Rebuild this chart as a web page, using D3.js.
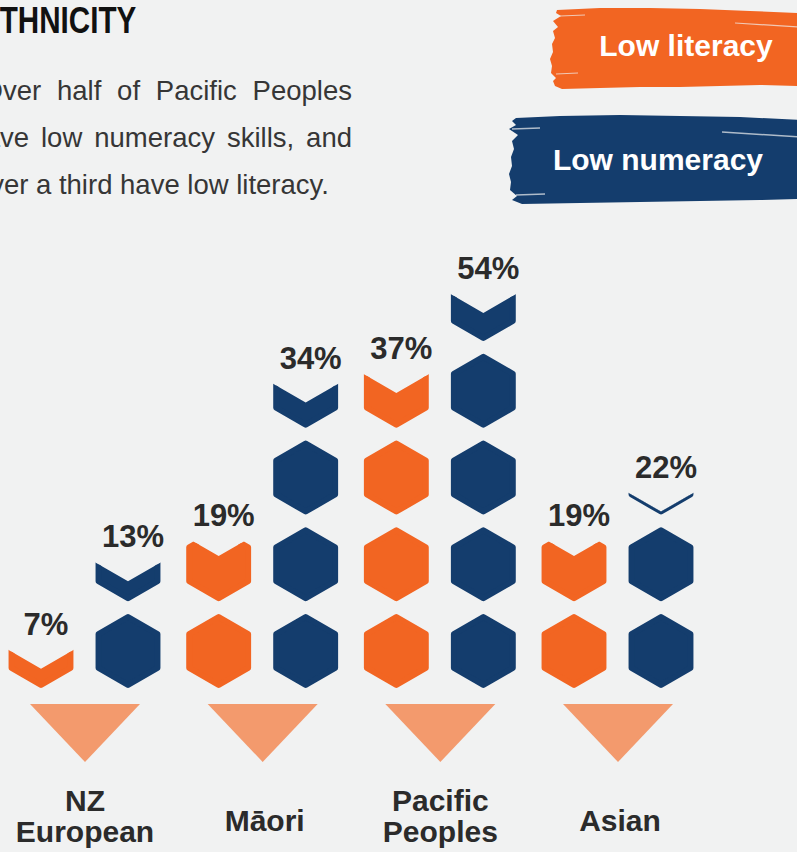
<!DOCTYPE html>
<html>
<head>
<meta charset="utf-8">
<script src="https://cdn.jsdelivr.net/npm/d3@7"></script>
<style>
body { margin: 0; background: #f1f2f2; }
svg { display: block; font-family: "Liberation Sans", Arial, sans-serif; }
</style>
</head>
<body>
<svg id="chart" width="797" height="852"></svg>
<script>
var categories = ["NZ European", "Māori", "Pacific Peoples", "Asian"];
var labelLines = [["NZ", "European"], ["Māori"], ["Pacific", "Peoples"], ["Asian"]];
var seriesNames = ["Low literacy", "Low numeracy"];
var literacy = [7, 19, 37, 19];
var numeracy = [13, 34, 54, 22];
// hexagon icons as drawn in the graphic (whole icons + part of one)
var literacyIcons = [0.26, 1.61, 3.47, 1.61];
var numeracyIcons = [1.27, 3.34, 4.38, 2.04];
var introLines = ["Over half of Pacific Peoples", "have low numeracy skills, and", "over a third have low literacy."];

var svg = d3.select("#chart");
var orange = "#f26522", navy = "#143d6d", peach = "#f39a6d", ink = "#2b2b2b", bg = "#f1f2f2";
var shapeLine = d3.line().curve(d3.curveLinearClosed);

// title + intro text (page is cropped on the left)
svg.append("text")
	.attr("transform", "translate(-20,33) scale(0.8,1)")
	.attr("font-size", 37)
	.attr("font-weight", "bold")
	.attr("fill", "#111")
	.text("ETHNICITY");

var introY = [100, 147, 194];
var introHidden = ["O", "ha", "ov"];
var introStart = [3, 0, 4];
introLines.forEach((line, i) => {
	var words = line.split(" ");
	var g = svg.append("g");
	var probe = g.append("text").attr("font-size", 27.5).text(introHidden[i]);
	var x0 = introStart[i] - probe.node().getComputedTextLength();
	probe.remove();
	var nodes = words.map(w => g.append("text")
		.attr("y", introY[i])
		.attr("font-size", 27.5)
		.attr("fill", "#363636")
		.text(w));
	var widths = nodes.map(n => n.node().getComputedTextLength());
	var gap = i < 2 ? (352 - x0 - d3.sum(widths)) / (words.length - 1) : 7.6;
	var x = x0;
	nodes.forEach((n, j) => { n.attr("x", x); x += widths[j] + gap; });
});

// legend brush strokes
var orangeBrush = [[557,10],[600,8],[650,8],[700,9],[750,11],[800,13],[800,86],[760,85],[720,86],[680,87],[640,87],[600,88],[562,89],[555,86],[553,81],[556,78],[551,73],[552,66],[550,59],[553,52],[552,44],[555,38],[553,31],[558,27],[553,21],[561,16],[556,13]];
var navyBrush = [[516,118],[560,116],[620,115],[680,116],[740,117],[800,120],[800,199],[760,200],[700,201],[640,202],[580,203],[522,204],[512,200],[517,196],[510,190],[511,182],[509,174],[512,166],[511,157],[514,149],[512,141],[518,135],[509,129],[516,125],[512,121]];
svg.append("path").attr("d", shapeLine(orangeBrush)).attr("fill", orange);
svg.append("path").attr("d", shapeLine(navyBrush)).attr("fill", navy);
[[[735,23],[800,27]], [[560,16],[585,15]], [[556,74],[578,73]]].forEach(s =>
	svg.append("path").attr("d", d3.line()(s)).attr("stroke", bg).attr("stroke-width", 1.2).attr("opacity", 0.7));
[[[722,132],[800,137]], [[512,129],[540,128]], [[516,195],[545,194]]].forEach(s =>
	svg.append("path").attr("d", d3.line()(s)).attr("stroke", bg).attr("stroke-width", 1.5).attr("opacity", 0.7));

svg.append("text").attr("x", 686).attr("y", 56).attr("text-anchor", "middle")
	.attr("font-size", 30).attr("font-weight", "bold").attr("fill", "#fff").text(seriesNames[0]);
svg.append("text").attr("x", 658).attr("y", 170).attr("text-anchor", "middle")
	.attr("font-size", 30).attr("font-weight", "bold").attr("fill", "#fff").text(seriesNames[1]);

// scales
var xGroup = d3.scalePoint().domain(categories).range([85, 618]);
var xSeries = d3.scalePoint().domain(seriesNames).range([-44, 43]);
var yRow = d3.scaleLinear().domain([0, 4]).range([688, 341]);
var hexH = 74, hexR = 34;
var depth = d3.scaleLinear().domain([0, 1]).range([0, hexH]);
var slope = Math.tan(Math.PI / 6);

function hexPoints(cx, cy) {
	return d3.range(6).map(i => {
		var a = Math.PI / 3 * i - Math.PI / 2;
		return [cx + hexR * Math.cos(a), cy + hexR * Math.sin(a)];
	});
}

var columns = [];
categories.forEach((c, i) => {
	columns.push({ cat: c, series: seriesNames[0], pct: literacy[i], icons: literacyIcons[i], color: orange });
	columns.push({ cat: c, series: seriesNames[1], pct: numeracy[i], icons: numeracyIcons[i], color: navy });
});

var defs = svg.append("defs");
var plot = svg.append("g");

columns.forEach((col, ci) => {
	var cx = xGroup(col.cat) + xSeries(col.series);
	var full = Math.floor(col.icons);
	var frac = col.icons - full;
	d3.range(full).forEach(k => {
		plot.append("path")
			.attr("d", shapeLine(hexPoints(cx, yRow(k) - hexH / 2)))
			.attr("fill", col.color)
			.attr("stroke", col.color)
			.attr("stroke-width", 6)
			.attr("stroke-linejoin", "round");
	});
	var bottom = yRow(full);
	var top = bottom - hexH;
	if (frac > 0) {
		var d = depth(frac);
		var notch = bottom - d;
		var id = "clip" + ci;
		defs.append("clipPath").attr("id", id)
			.append("path")
			.attr("d", shapeLine([[cx - 60, notch - 60 * slope], [cx, notch], [cx + 60, notch - 60 * slope], [cx + 60, bottom + 10], [cx - 60, bottom + 10]]));
		plot.append("path")
			.attr("d", shapeLine(hexPoints(cx, bottom - hexH / 2)))
			.attr("clip-path", "url(#" + id + ")")
			.attr("fill", col.color)
			.attr("stroke", col.color)
			.attr("stroke-width", 6)
			.attr("stroke-linejoin", "round");
		top = d <= 37 ? bottom - 18.5 - d : bottom - 55.5 - (d - 37) / 2;
	}
	plot.append("text")
		.attr("x", cx + 5)
		.attr("y", top - 15.5)
		.attr("text-anchor", "middle")
		.attr("font-size", 31)
		.attr("font-weight", "bold")
		.attr("fill", ink)
		.text(col.pct + "%");
});

// category markers and labels
categories.forEach((c, i) => {
	var gx = xGroup(c);
	svg.append("path")
		.attr("d", shapeLine([[gx - 55, 704], [gx + 55, 704], [gx, 762]]))
		.attr("fill", peach);
	var lines = labelLines[i];
	var baseY = lines.length === 2 ? [811, 842] : [831];
	lines.forEach((t, j) => {
		svg.append("text")
			.attr("x", gx + (lines.length === 2 ? 0 : 2))
			.attr("y", baseY[j])
			.attr("text-anchor", "middle")
			.attr("font-size", 30)
			.attr("font-weight", "bold")
			.attr("fill", ink)
			.text(t);
	});
});
</script>
</body>
</html>
